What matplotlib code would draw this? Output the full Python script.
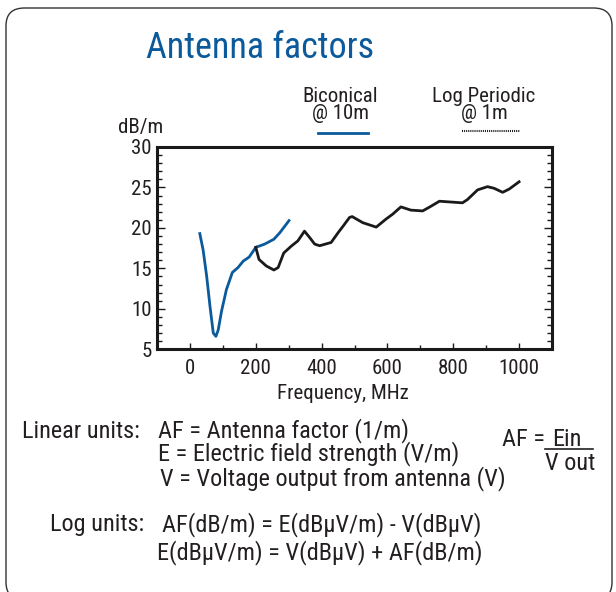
import matplotlib
matplotlib.use("Agg")
import matplotlib.pyplot as plt
from matplotlib.patches import FancyBboxPatch
from matplotlib.lines import Line2D
from matplotlib.ticker import MultipleLocator
from matplotlib import font_manager

names = {f.name for f in font_manager.fontManager.ttflist}
fam = [n for n in ["Liberation Sans Narrow", "Roboto Condensed", "DejaVu Sans Condensed", "DejaVu Sans"] if n in names]
plt.rcParams['font.family'] = fam + ["DejaVu Sans"]

# Biconical @ 10m
bic_freq = [30, 40, 51, 61, 71, 79, 86, 96, 111, 129, 146, 162, 180, 200, 227, 255, 273, 301]
bic_af = [19.3, 17.3, 14.0, 10.3, 7.0, 6.6, 7.4, 9.7, 12.4, 14.5, 15.1, 15.9, 16.4, 17.6, 18.0,
          18.6, 19.4, 20.9]

# Log Periodic @ 1m
lp_freq = [200, 210, 232, 255, 268, 285, 308, 328, 348, 364, 379, 394, 429, 450, 465, 485,
           493, 525, 566, 596, 616, 641, 671, 707, 729, 758, 793, 828, 843, 874, 904, 924,
           950, 970, 1000]
lp_af = [17.6, 16.1, 15.3, 14.8, 15.1, 16.9, 17.75, 18.4, 19.6, 18.8, 18.0, 17.8, 18.2, 19.4,
         20.2, 21.3, 21.4, 20.65, 20.1, 21.1, 21.7, 22.6, 22.2, 22.1, 22.6, 23.3, 23.2, 23.1,
         23.5, 24.7, 25.1, 24.9, 24.4, 24.8, 25.7]

x_ticks = [0, 200, 400, 600, 800, 1000]
y_ticks = [5, 10, 15, 20, 25, 30]

blue = "#0b5a9b"
txt = "#231f20"

fig = plt.figure(figsize=(6.16, 5.92), dpi=100)
W, H = 616.0, 592.0

def fx(px):
    return px / W

def fy(py):
    return 1 - py / H

frame = FancyBboxPatch((fx(6), fy(600)), fx(606), (600 - 8) / H,
                       boxstyle="round,pad=0,rounding_size=0.03",
                       transform=fig.transFigure, fill=False, ec="#333333", lw=1.0)
fig.patches.append(frame)

ax = fig.add_axes([fx(157), fy(349.3), fx(552 - 157), (349.3 - 147) / H])
ax.plot(bic_freq, bic_af, color=blue, lw=2.0, solid_joinstyle="round")
ax.plot(lp_freq, lp_af, color="#1a1a1a", lw=2.0, solid_joinstyle="round")
ax.set_xlim(-100, 1100)
ax.set_ylim(5, 30)
ax.set_xticks(x_ticks)
ax.set_yticks(y_ticks)
ax.xaxis.set_minor_locator(MultipleLocator(100))
ax.yaxis.set_minor_locator(MultipleLocator(1))
for s in ax.spines.values():
    s.set_linewidth(2.2)
    s.set_color("#1a1a1a")
ax.tick_params(which="both", direction="in", top=False, right=True, width=1.0, colors="#1a1a1a",
               labelsize=15, labelcolor=txt)
ax.tick_params(which="major", length=6, pad=4)
ax.tick_params(which="minor", length=3.5)
ax.tick_params(axis="x", which="major", length=4, pad=7)
ax.tick_params(axis="x", which="minor", length=3)
ax.set_xlabel("Frequency, MHz", fontsize=15, color=txt, labelpad=4)
ax.xaxis.set_label_coords((342.5 - 157) / 395, -0.17)

fig.text(fx(146), fy(48), "Antenna factors", fontsize=26, color=blue, va="center", ha="left")
fig.text(fx(118), fy(128), "dB/m", fontsize=15, color=txt, va="center", ha="left")

fig.text(fx(340), fy(105), "Biconical\n@ 10m", fontsize=15, color=txt, ha="center", va="center",
         linespacing=0.85)
fig.text(fx(484), fy(105), "Log Periodic\n@ 1m", fontsize=15, color=txt, ha="center", va="center",
         linespacing=0.85)
fig.lines.append(Line2D([fx(318), fx(368)], [fy(133), fy(133)], transform=fig.transFigure,
                        color=blue, lw=2.0))
fig.lines.append(Line2D([fx(462), fx(520)], [fy(131), fy(131)], transform=fig.transFigure,
                        color="#1a1a1a", lw=1.5, ls=(0, (0.5, 0.5))))

fs = 17.5
fig.text(fx(22), fy(431), "Linear units:", fontsize=fs, color=txt, va="center")
fig.text(fx(158), fy(431), "AF = Antenna factor (1/m)", fontsize=fs, color=txt, va="center")
fig.text(fx(158), fy(454), "E = Electric field strength (V/m)", fontsize=fs, color=txt, va="center")
fig.text(fx(160), fy(479), "V = Voltage output from antenna (V)", fontsize=fs, color=txt, va="center")
fig.text(fx(502), fy(440), "AF =", fontsize=fs, color=txt, va="center")
fig.text(fx(552), fy(440), "Ein", fontsize=fs, color=txt, va="center", ha="left")
fig.text(fx(570), fy(463), "V out", fontsize=fs, color=txt, va="center", ha="center")
fig.lines.append(Line2D([fx(545), fx(593)], [fy(449), fy(449)], transform=fig.transFigure,
                        color=txt, lw=1.2))

fig.text(fx(50), fy(524), "Log units:", fontsize=fs, color=txt, va="center")
fig.text(fx(162), fy(525), "AF(dB/m) = E(dBμV/m) - V(dBμV)", fontsize=fs, color=txt, va="center")
fig.text(fx(157), fy(553), "E(dBμV/m) = V(dBμV) + AF(dB/m)", fontsize=fs, color=txt, va="center")

fig.savefig("out.png", dpi=100)
